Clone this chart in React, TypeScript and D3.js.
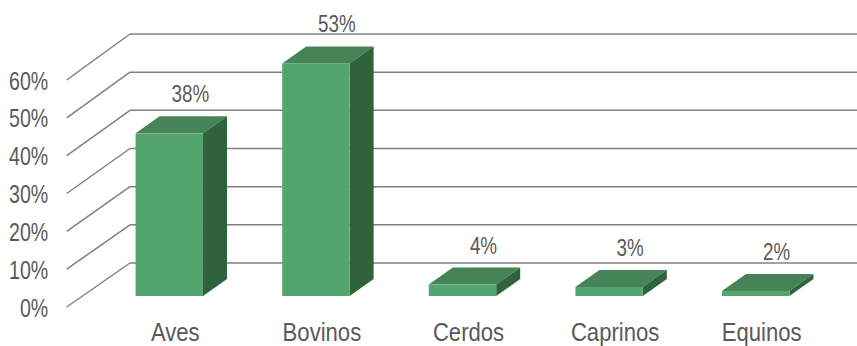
import React from "react";
import * as d3 from "d3";

const categories = ["Aves", "Bovinos", "Cerdos", "Caprinos", "Equinos"];
// bar heights
const values = [0.428, 0.612, 0.03, 0.024, 0.013];
// printed data labels
const dataLabels = ["38%", "53%", "4%", "3%", "2%"];
const ticks = [0, 0.1, 0.2, 0.3, 0.4, 0.5, 0.6];

const W = 857;
const H = 346;

const FRONT = "#53A56D";
const TOP = "#468357";
const SIDE = "#2E633D";
const GRID = "#808080";
const TEXT = "#595959";

function SText({
  x,
  y,
  anchor,
  size,
  sx,
  children,
}: {
  x: number;
  y: number;
  anchor: string;
  size: number;
  sx: number;
  children: React.ReactNode;
}) {
  return (
    <text
      transform={`translate(${x},${y}) scale(${sx},1)`}
      textAnchor={anchor}
      fill={TEXT}
      style={{ fontFamily: "'Liberation Sans', Arial, sans-serif", fontSize: size }}
    >
      {children}
    </text>
  );
}

export default function App() {
  const x = d3.scaleBand<string>().domain(categories).range([96, 829]).paddingInner(0.54).paddingOuter(0.27);
  const yBar = d3.scaleLinear().domain([0, 0.6]).range([296, 68]);
  const yBack = d3.scaleLinear().domain([0, 0.6]).range([263, 34]);
  const yFront = d3.scaleLinear().domain([0, 0.6]).range([307, 80]);
  const xFrontAxis = 66.7;
  const xBackAxis = 130;
  const dx = 24;
  const dy = -17;
  const fmt = d3.format(".0%");

  return (
    <svg width={W} height={H} style={{ position: "absolute", left: 0, top: 0 }}>
      <rect width={W} height={H} fill="#ffffff" />
      <g>
        {ticks.map((t) => (
          <g key={t}>
            <line x1={xBackAxis} x2={W} y1={yBack(t)} y2={yBack(t)} stroke={GRID} strokeWidth={1.5} />
            <line x1={xFrontAxis} x2={xBackAxis} y1={yFront(t)} y2={yBack(t)} stroke={GRID} strokeWidth={1.5} />
            <SText x={48.3} y={yFront(t) + 9.5} anchor="end" size={26.5} sx={0.74}>
              {fmt(t)}
            </SText>
          </g>
        ))}
      </g>
      <g>
        {categories.map((c, i) => {
          const x0 = x(c)!;
          const x1 = x0 + x.bandwidth();
          const yt = yBar(values[i]);
          const yb = yBar(0);
          const topPts = [
            [x0, yt],
            [x0 + dx, yt + dy],
            [x1 + dx, yt + dy],
            [x1, yt],
          ];
          const sidePts = [
            [x1, yt],
            [x1 + dx, yt + dy],
            [x1 + dx, yb + dy],
            [x1, yb],
          ];
          const pts = (p: number[][]) => p.map((q) => q.join(",")).join(" ");
          const cx = (x0 + x1) / 2;
          return (
            <g key={c}>
              <polygon points={pts(topPts)} fill={TOP} />
              <polygon points={pts(sidePts)} fill={SIDE} />
              <rect x={x0} y={yt} width={x1 - x0} height={yb - yt} fill={FRONT} />
              <SText x={cx + 21} y={yt - 31} anchor="middle" size={23.5} sx={0.8}>
                {dataLabels[i]}
              </SText>
              <SText x={cx + 6} y={341} anchor="middle" size={26} sx={0.85}>
                {c}
              </SText>
            </g>
          );
        })}
      </g>
    </svg>
  );
}
